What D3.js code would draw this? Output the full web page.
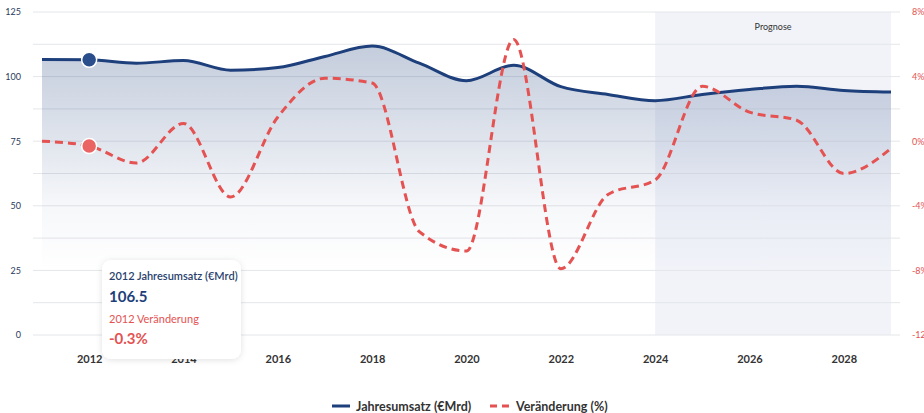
<!DOCTYPE html>
<html>
<head>
<meta charset="utf-8">
<script src="https://cdn.jsdelivr.net/npm/d3@7"></script>
<style>
  body { margin: 0; background: #fff; font-family: Lato, "Open Sans", sans-serif; }
  svg { display: block; }
</style>
</head>
<body>
<svg id="chart" width="924" height="413"></svg>
<script>
// data
var years = [2011, 2012, 2013, 2014, 2015, 2016, 2017, 2018, 2019, 2020,
             2021, 2022, 2023, 2024, 2025, 2026, 2027, 2028, 2029];
var umsatz = [106.6, 106.5, 105.2, 106.2, 102.5, 103.5, 107.8, 111.8, 105.2, 98.4,
              104.4, 96.1, 93.1, 90.7, 93.1, 95.0, 96.3, 94.6, 94.0];
var veraenderung = [0.0, -0.3, -1.35, 1.1, -3.45, 1.5, 3.9, 3.6, -5.6, -6.8,
                    6.3, -7.9, -3.3, -2.4, 3.4, 1.8, 1.3, -2.0, -0.45];
var leftTicks = [0, 25, 50, 75, 100, 125];
var rightTicks = [-12, -8, -4, 0, 4, 8];
var xTicks = [2012, 2014, 2016, 2018, 2020, 2022, 2024, 2026, 2028];
var prognose = [2024, 2029];
var selYear = 2012;

var blue = "#1d3f7b", red = "#e45252";

var svg = d3.select("#chart");

var x = d3.scaleLinear().domain([2011, 2029]).range([42, 891]);
var yL = d3.scaleLinear().domain([0, 125]).range([335, 12]);
var yR = d3.scaleLinear().domain([-12, 8]).range([335, 12]);

var defs = svg.append("defs");
var grad = defs.append("linearGradient").attr("id", "areaGrad")
  .attr("x1", 0).attr("y1", 0).attr("x2", 0).attr("y2", 1);
grad.append("stop").attr("offset", "0%").attr("stop-color", blue).attr("stop-opacity", 0.26);
grad.append("stop").attr("offset", "30%").attr("stop-color", blue).attr("stop-opacity", 0.15);
grad.append("stop").attr("offset", "55%").attr("stop-color", blue).attr("stop-opacity", 0.04);
grad.append("stop").attr("offset", "78%").attr("stop-color", blue).attr("stop-opacity", 0.0);
var shadow = defs.append("filter").attr("id", "shadow")
  .attr("x", "-20%").attr("y", "-20%").attr("width", "140%").attr("height", "140%");
shadow.append("feDropShadow").attr("dx", 0).attr("dy", 1).attr("stdDeviation", 3)
  .attr("flood-color", "#000").attr("flood-opacity", 0.12);

// prognose band
svg.append("rect")
  .attr("x", x(prognose[0])).attr("y", yL(125))
  .attr("width", x(prognose[1]) - x(prognose[0]))
  .attr("height", yL(0) - yL(125))
  .attr("fill", "#f1f3f9");
svg.append("text")
  .attr("x", (x(prognose[0]) + x(prognose[1])) / 2).attr("y", 30)
  .attr("text-anchor", "middle").attr("font-size", 9).attr("fill", "#333")
  .text("Prognose");

// gridlines every 12.5
svg.append("g").selectAll("line")
  .data(d3.range(0, 125.1, 12.5))
  .enter().append("line")
  .attr("x1", 33).attr("x2", 900)
  .attr("y1", function(d) { return yL(d); })
  .attr("y2", function(d) { return yL(d); })
  .attr("stroke", "#e4e6ea").attr("stroke-width", 1);

// left axis
svg.append("g").attr("transform", "translate(21,0)")
  .call(d3.axisLeft(yL).tickValues(leftTicks).tickSize(0).tickPadding(0))
  .call(function(g) { g.select(".domain").remove(); })
  .selectAll("text")
  .attr("font-family", "Lato, sans-serif").attr("font-size", 9).attr("fill", "#2a3a5c");

// right axis (cut at the edge, as in the original)
svg.append("g").attr("transform", "translate(912,0)")
  .call(d3.axisRight(yR).tickValues(rightTicks).tickSize(0).tickPadding(0)
    .tickFormat(function(d) { return d + "%"; }))
  .call(function(g) { g.select(".domain").remove(); })
  .selectAll("text")
  .attr("font-family", "Lato, sans-serif").attr("font-size", 9).attr("fill", red);

// x axis
svg.append("g").attr("transform", "translate(0,355)")
  .call(d3.axisBottom(x).tickValues(xTicks).tickSize(0).tickPadding(0)
    .tickFormat(d3.format("d")))
  .call(function(g) { g.select(".domain").remove(); })
  .selectAll("text")
  .attr("font-family", "Lato, sans-serif").attr("font-size", 11).attr("font-weight", "bold")
  .attr("fill", "#333");

var rows = years.map(function(y, i) { return {year: y, u: umsatz[i], v: veraenderung[i]}; });

// area + line for Jahresumsatz
svg.append("path").datum(rows)
  .attr("fill", "url(#areaGrad)")
  .attr("d", d3.area().curve(d3.curveMonotoneX)
    .x(function(d) { return x(d.year); })
    .y0(yL(0))
    .y1(function(d) { return yL(d.u); }));
svg.append("path").datum(rows)
  .attr("fill", "none").attr("stroke", blue).attr("stroke-width", 3)
  .attr("d", d3.line().curve(d3.curveMonotoneX)
    .x(function(d) { return x(d.year); })
    .y(function(d) { return yL(d.u); }));

// dashed line for Veränderung
svg.append("path").datum(rows)
  .attr("fill", "none").attr("stroke", red).attr("stroke-width", 3)
  .attr("stroke-dasharray", "8,5")
  .attr("d", d3.line().curve(d3.curveMonotoneX)
    .x(function(d) { return x(d.year); })
    .y(function(d) { return yR(d.v); }));

// hover markers
var sel = rows[years.indexOf(selYear)];
svg.append("circle").attr("cx", x(sel.year)).attr("cy", yL(sel.u)).attr("r", 7.5)
  .attr("fill", "#2a4d8c").attr("stroke", "#fff").attr("stroke-width", 1.5);
svg.append("circle").attr("cx", x(sel.year)).attr("cy", yR(sel.v)).attr("r", 7.5)
  .attr("fill", "#ea6464").attr("stroke", "#fff").attr("stroke-width", 1.5);

// tooltip
var tip = svg.append("g").attr("transform", "translate(102,260)");
tip.append("rect").attr("width", 139).attr("height", 99).attr("rx", 9)
  .attr("fill", "#fff").attr("filter", "url(#shadow)");
tip.append("text").attr("x", 7).attr("y", 20).attr("font-size", 11).attr("font-weight", 600)
  .attr("fill", "#2a3f6e").text(sel.year + " Jahresumsatz (€Mrd)");
tip.append("text").attr("x", 7).attr("y", 42).attr("font-size", 15).attr("font-weight", "bold")
  .attr("fill", blue).text(sel.u.toFixed(1));
tip.append("text").attr("x", 7).attr("y", 63).attr("font-size", 11).attr("fill", red)
  .text(sel.year + " Veränderung");
tip.append("text").attr("x", 7).attr("y", 84).attr("font-size", 15).attr("font-weight", "bold")
  .attr("fill", red).text(sel.v.toFixed(1) + "%");

// legend
var leg = svg.append("g").attr("transform", "translate(332,406)");
leg.append("line").attr("x1", 0).attr("x2", 18).attr("stroke", blue).attr("stroke-width", 3);
leg.append("text").attr("x", 24).attr("y", 4.5).attr("font-size", 12.5).attr("font-weight", "bold")
  .attr("fill", "#333").text("Jahresumsatz (€Mrd)");
leg.append("line").attr("x1", 158).attr("x2", 177).attr("stroke", red).attr("stroke-width", 3)
  .attr("stroke-dasharray", "7,5");
leg.append("text").attr("x", 184).attr("y", 4.5).attr("font-size", 12.5).attr("font-weight", "bold")
  .attr("fill", "#333").text("Veränderung (%)");
</script>
</body>
</html>
